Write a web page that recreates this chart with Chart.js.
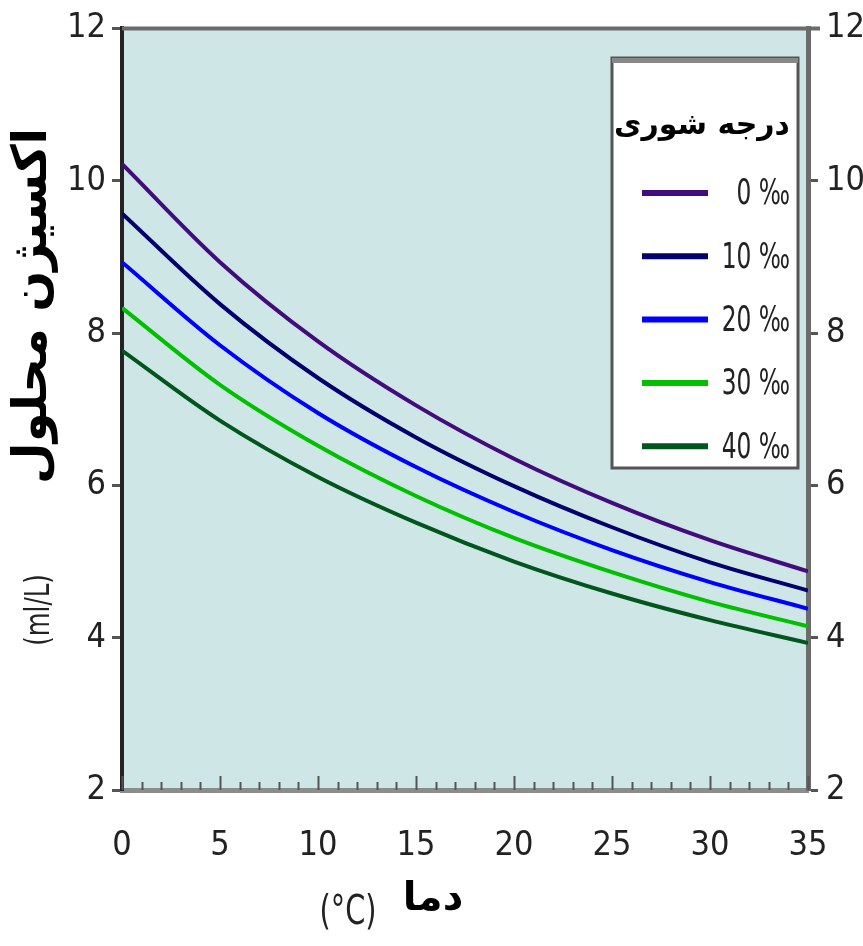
<!DOCTYPE html>
<html>
<head>
<meta charset="utf-8">
<script src="https://cdn.jsdelivr.net/npm/chart.js@4/dist/chart.umd.min.js"></script>
<style>
  html, body { margin: 0; padding: 0; background: #fff; }
  #wrap { width: 863px; height: 946px; }
</style>
</head>
<body>
<div id="wrap"><canvas id="c" width="863" height="946"></canvas></div>
<script>
// دما (°C)
const temps = [0, 5, 10, 15, 20, 25, 30, 35];
// اکسیژن محلول (ml/L) برای هر درجه شوری
const sal0  = [10.22, 8.93, 7.89, 7.05, 6.35, 5.77, 5.28, 4.87];
const sal10 = [9.57, 8.38, 7.41, 6.63, 5.99, 5.45, 4.99, 4.62];
const sal20 = [8.93, 7.84, 6.95, 6.24, 5.65, 5.15, 4.73, 4.38];
const sal30 = [8.33, 7.32, 6.52, 5.86, 5.31, 4.86, 4.47, 4.15];
const sal40 = [7.77, 6.85, 6.11, 5.51, 5.00, 4.58, 4.23, 3.93];
const seriesLabels = ["0 ‰", "10 ‰", "20 ‰", "30 ‰", "40 ‰"];
const seriesColors = ["#420c7e", "#00006e", "#0000ff", "#00c000", "#00561c"];
const yTicks = [2, 4, 6, 8, 10, 12];
const xTicks = [0, 5, 10, 15, 20, 25, 30, 35];

const numFont = '"DejaVu Sans Condensed", "Liberation Sans", sans-serif';
const faFont = '"DejaVu Sans", sans-serif';

const allSeries = [sal0, sal10, sal20, sal30, sal40];
const datasets = allSeries.map((vals, i) => ({
  label: seriesLabels[i],
  data: vals.map((v, j) => ({ x: temps[j], y: v })),
  borderColor: seriesColors[i],
  borderWidth: 4,
  pointRadius: 0,
  fill: false,
  cubicInterpolationMode: "monotone"
}));

// متن باریک (فشرده افقی)
function narrowText(ctx, txt, x, y, sx) {
  ctx.save();
  ctx.translate(x, y);
  ctx.scale(sx, 1);
  ctx.fillText(txt, 0, 0);
  ctx.restore();
}

// پس‌زمینه ناحیه نمودار، تیک‌های داخلی محور x و عنوان محورها
const plotDeco = {
  id: "plotDeco",
  beforeDraw(chart) {
    const { ctx, chartArea: a } = chart;
    ctx.save();
    ctx.fillStyle = "#cfe6e6";
    ctx.fillRect(a.left, a.top, a.right - a.left, a.bottom - a.top);
    ctx.restore();
  },
  afterDraw(chart) {
    const { ctx, chartArea: a } = chart;
    const xs = chart.scales.x;
    ctx.save();
    ctx.strokeStyle = "#6b6b6b";
    ctx.lineWidth = 4;
    ctx.beginPath();
    ctx.moveTo(a.left, a.top);
    ctx.lineTo(a.right + 12, a.top);
    ctx.stroke();
    ctx.strokeStyle = "#555";
    ctx.lineWidth = 2;
    for (let t = 0; t <= 35; t++) {
      const px = Math.round(xs.getPixelForValue(t)) + 0.5;
      const len = t % 5 === 0 ? 14 : 8;
      ctx.beginPath();
      ctx.moveTo(px, a.bottom);
      ctx.lineTo(px, a.bottom - len);
      ctx.stroke();
    }
    ctx.fillStyle = "#000";
    ctx.textBaseline = "middle";
    ctx.textAlign = "center";
    ctx.font = "bold 40px " + faFont;
    ctx.direction = "rtl";
    ctx.fillText("دما", 433, 900);
    ctx.direction = "ltr";
    ctx.font = "40px " + numFont;
    ctx.fillStyle = "#222";
    narrowText(ctx, "(°C)", 348, 914, 0.8);
    // عنوان محور y
    ctx.fillStyle = "#000";
    ctx.translate(34, 0);
    ctx.rotate(-Math.PI / 2);
    ctx.font = "bold 48px " + faFont;
    ctx.direction = "rtl";
    ctx.fillText("اکسیژن محلول", -306, 0);
    ctx.direction = "ltr";
    ctx.font = "34px " + numFont;
    ctx.fillStyle = "#222";
    narrowText(ctx, "(ml/L)", -610, 6, 0.8);
    ctx.restore();
  }
};

// راهنما با عنوان فارسی
const boxLegend = {
  id: "boxLegend",
  afterDraw(chart) {
    const { ctx } = chart;
    const x0 = 612, y0 = 58, w = 186, h = 410;
    ctx.save();
    ctx.fillStyle = "#fff";
    ctx.fillRect(x0, y0, w, h);
    ctx.strokeStyle = "#555";
    ctx.lineWidth = 3;
    ctx.strokeRect(x0, y0, w, h);
    ctx.fillStyle = "#888";
    ctx.fillRect(x0, y0, w, 5);
    ctx.fillStyle = "#000";
    ctx.font = "bold 30px " + faFont;
    ctx.textAlign = "center";
    ctx.textBaseline = "middle";
    ctx.direction = "rtl";
    ctx.fillText("درجه شوری", 702, 126);
    ctx.direction = "ltr";
    chart.data.datasets.forEach((ds, i) => {
      const yy = 193 + i * 63.3;
      ctx.strokeStyle = ds.borderColor;
      ctx.lineWidth = 6;
      ctx.beginPath();
      ctx.moveTo(642, yy);
      ctx.lineTo(708, yy);
      ctx.stroke();
      ctx.fillStyle = "#222";
      ctx.font = "36px " + numFont;
      ctx.textAlign = "right";
      narrowText(ctx, ds.label, 790, yy + 2, 0.72);
    });
    ctx.restore();
  }
};

new Chart(document.getElementById("c"), {
  type: "line",
  data: { datasets },
  options: {
    responsive: false,
    animation: false,
    layout: { padding: { top: 28, left: 0, right: 0, bottom: 0 } },
    plugins: { legend: { display: false }, tooltip: { enabled: false } },
    scales: {
      x: {
        type: "linear",
        min: 0,
        max: 35,
        afterFit(s) { s.height = 156; },
        afterBuildTicks(s) { s.ticks = xTicks.map(v => ({ value: v })); },
        grid: { display: false },
        border: { display: true, color: "#8c8c8c", width: 5 },
        ticks: {
          padding: 28,
          maxRotation: 0,
          color: "#222",
          font: { family: numFont, size: 34 }
        }
      },
      y: {
        position: "left",
        min: 2,
        max: 12,
        afterFit(s) { s.width = 122; },
        afterBuildTicks(s) { s.ticks = yTicks.map(v => ({ value: v })); },
        grid: { drawOnChartArea: false, drawTicks: true, tickLength: 10, tickWidth: 3, tickColor: "#555" },
        border: { display: true, color: "#222", width: 4 },
        ticks: { padding: 6, color: "#222", font: { family: numFont, size: 34 } }
      },
      y2: {
        position: "right",
        min: 2,
        max: 12,
        afterFit(s) { s.width = 55; },
        afterBuildTicks(s) { s.ticks = yTicks.map(v => ({ value: v })); },
        grid: { drawOnChartArea: false, drawTicks: true, tickLength: 10, tickWidth: 3, tickColor: "#555" },
        border: { display: true, color: "#6b6b6b", width: 5 },
        ticks: { padding: 8, color: "#222", font: { family: numFont, size: 34 } }
      }
    }
  },
  plugins: [plotDeco, boxLegend]
});
</script>
</body>
</html>
